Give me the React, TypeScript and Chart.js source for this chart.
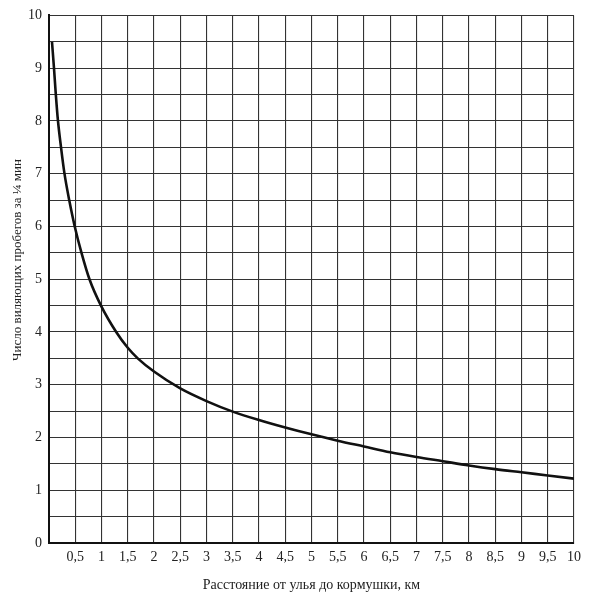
import React, { useEffect, useRef } from "react";
import { Chart, registerables } from "chart.js";

Chart.register(...registerables);

const distanceKm = [0.057, 0.095, 0.13, 0.171, 0.229, 0.295, 0.385, 0.49, 0.619, 0.771, 0.99, 1.28, 1.5, 1.69, 2, 2.5, 3, 3.5, 4, 4.5, 5, 5.5, 6, 6.5, 7, 7.5, 8, 8.5, 9, 9.5, 10];
const waggleRuns = [9.5, 9, 8.5, 8, 7.5, 7, 6.5, 6, 5.5, 5, 4.5, 4, 3.7, 3.5, 3.25, 2.93, 2.69, 2.49, 2.33, 2.19, 2.06, 1.94, 1.83, 1.72, 1.63, 1.55, 1.47, 1.4, 1.34, 1.28, 1.22];
const xTitle = "Расстояние от улья до кормушки, км";
const yTitle = "Число виляющих пробегов за ¼ мин";

const FONT = "'Liberation Serif', 'DejaVu Serif', serif";

export default function App() {
  const ref = useRef<HTMLCanvasElement | null>(null);
  useEffect(() => {
    if (!ref.current) return;
    const yTitlePlugin = {
      id: "yTitle",
      afterDraw(chart: any) {
        const ctx = chart.ctx;
        ctx.save();
        ctx.translate(18, 260);
        ctx.rotate(-Math.PI / 2);
        ctx.font = `13px ${FONT}`;
        ctx.fillStyle = "#222";
        ctx.textAlign = "center";
        ctx.textBaseline = "middle";
        ctx.fillText(yTitle, 0, 0);
        ctx.restore();
      },
    };
    const chart = new Chart(ref.current, {
      type: "line",
      data: {
        datasets: [
          {
            data: distanceKm.map((x, i) => ({ x, y: waggleRuns[i] })),
            borderColor: "#111",
            borderWidth: 2.6,
            pointRadius: 0,
            cubicInterpolationMode: "monotone",
            fill: false,
          },
        ],
      },
      options: {
        animation: false,
        responsive: false,
        maintainAspectRatio: false,
        layout: { padding: { top: 12, right: 15, left: 0, bottom: 0 } },
        plugins: { legend: { display: false }, tooltip: { enabled: false } },
        scales: {
          x: {
            type: "linear",
            min: 0,
            max: 10,
            afterFit: (s: any) => { s.height = 51; },
            ticks: {
              stepSize: 0.5,
              autoSkip: false,
              maxRotation: 0,
              color: "#222",
              font: { family: FONT, size: 14 },
              padding: 6,
              callback: (v: any) => (v === 0 ? "" : String(v).replace(".", ",")),
            },
            grid: { color: "#333", lineWidth: 1.1, drawTicks: false },
            border: { color: "#111", width: 2 },
            title: {
              display: true,
              text: xTitle,
              color: "#222",
              font: { family: FONT, size: 14 },
              padding: { top: 5, bottom: 0 },
            },
          },
          y: {
            type: "linear",
            min: 0,
            max: 10,
            afterFit: (s: any) => { s.width = 49; },
            ticks: {
              stepSize: 0.5,
              autoSkip: false,
              color: "#222",
              font: { family: FONT, size: 14 },
              padding: 7,
              callback: (v: any) => (Number.isInteger(v) ? String(v) : ""),
            },
            grid: { color: "#333", lineWidth: 1.1, drawTicks: false },
            border: { color: "#111", width: 2 },
          },
        },
      },
      plugins: [yTitlePlugin],
    });
    return () => chart.destroy();
  }, []);
  return (
    <div style={{ position: "fixed", left: 0, top: 0, width: 589, height: 594, background: "#fff" }}>
      <canvas ref={ref} width={589} height={594} style={{ width: 589, height: 594 }} />
    </div>
  );
}
